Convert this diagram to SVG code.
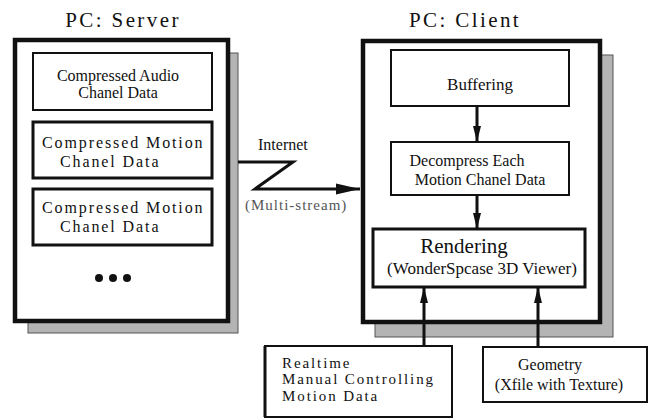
<svg xmlns="http://www.w3.org/2000/svg" width="654" height="419" viewBox="0 0 654 419">
  <defs>
    <style>
      text { font-family: "Liberation Serif", "Times New Roman", serif; fill: #111; }
      .title { font-size: 21px; letter-spacing: 2.4px; text-anchor: middle; }
      .t16 { font-size: 16px; text-anchor: middle; }
      .wide { font-size: 16px; letter-spacing: 1.9px; }
      .shadow { fill: #b4b4b4; stroke: #555; stroke-width: 1; }
      .frame { fill: #fff; stroke: #111; stroke-width: 4.5; }
      .box { fill: #fff; stroke: #111; stroke-width: 2; }
      .boxb { fill: #fff; stroke: #111; stroke-width: 3; }
      .line { fill: none; stroke: #111; stroke-width: 3; }
    </style>
    <marker id="head" viewBox="0 0 16 10" refX="16" refY="5" markerWidth="16" markerHeight="10" markerUnits="userSpaceOnUse" orient="auto">
      <path d="M0,1 L16,5 L0,9 Z" fill="#111"/>
    </marker>
    <marker id="headBig" viewBox="0 0 24 12" refX="24" refY="6" markerWidth="24" markerHeight="12" markerUnits="userSpaceOnUse" orient="auto">
      <path d="M0,0.5 L24,6 L0,11.5 Z" fill="#111"/>
    </marker>
  </defs>

  <!-- Server PC -->
  <g id="server">
    <text class="title" x="123" y="27">PC: Server</text>
    <rect class="shadow" x="28" y="53" width="210" height="280"/>
    <rect class="frame" x="15" y="40" width="213" height="281"/>
  </g>
  <g id="audio">
    <rect class="box" x="33" y="53" width="179" height="57"/>
    <text class="t16" x="118" y="81">Compressed Audio</text>
    <text class="t16" x="118" y="98">Chanel Data</text>
  </g>
  <g id="motion1">
    <rect class="boxb" x="33" y="122" width="179" height="56"/>
    <text class="wide" x="42" y="148">Compressed Motion</text>
    <text class="wide" x="60" y="167">Chanel Data</text>
  </g>
  <g id="motion2">
    <rect class="boxb" x="33" y="189" width="179" height="56"/>
    <text class="wide" x="42" y="213">Compressed Motion</text>
    <text class="wide" x="60" y="232">Chanel Data</text>
  </g>
  <g id="more">
    <circle cx="99" cy="278" r="4" fill="#111"/>
    <circle cx="113" cy="278" r="4" fill="#111"/>
    <circle cx="127" cy="278" r="4" fill="#111"/>
  </g>

  <!-- Client PC -->
  <g id="client">
    <text class="title" x="465" y="27">PC: Client</text>
    <rect class="shadow" x="375" y="55" width="238" height="282"/>
    <rect class="frame" x="363" y="41" width="237" height="281"/>
  </g>
  <g id="buffering">
    <rect class="box" x="391" y="50" width="178" height="56"/>
    <text class="t16" x="480" y="90" style="font-size:17px">Buffering</text>
  </g>
  <g id="decompress">
    <rect class="box" x="391" y="142" width="178" height="53"/>
    <text class="t16" x="467" y="166">Decompress Each</text>
    <text class="t16" x="480" y="185">Motion Chanel Data</text>
  </g>
  <g id="rendering">
    <rect class="boxb" x="373" y="229" width="212" height="58"/>
    <text class="t16" x="464" y="253" style="font-size:21px">Rendering</text>
    <text class="t16" x="482" y="274" style="font-size:17px">(WonderSpcase 3D Viewer)</text>
  </g>

  <!-- External inputs -->
  <g id="manual">
    <rect class="box" x="265" y="346" width="187" height="71"/>
    <line x1="265" y1="346" x2="265" y2="417" stroke="#111" stroke-width="3"/>
    <text class="wide" x="282" y="368" style="font-size:15px">Realtime</text>
    <text class="wide" x="282" y="384" style="font-size:15px">Manual Controlling</text>
    <text class="wide" x="282" y="401" style="font-size:15px">Motion Data</text>
  </g>
  <g id="geometry">
    <rect class="box" x="483" y="347" width="164" height="55"/>
    <text class="t16" x="550" y="370">Geometry</text>
    <text class="t16" x="559" y="390">(Xfile with Texture)</text>
  </g>

  <!-- Connectors -->
  <g id="connectors">
    <polyline class="line" points="238,162 293,162 255,189 360,189" marker-end="url(#headBig)"/>
    <text x="258" y="150" style="font-size:16px">Internet</text>
    <text x="245" y="210" style="font-size:15px; letter-spacing:1px; fill:#555">(Multi-stream)</text>
    <line class="line" x1="477" y1="106" x2="477" y2="142" marker-end="url(#head)"/>
    <line class="line" x1="477" y1="195" x2="477" y2="229" marker-end="url(#head)"/>
    <line class="line" x1="424" y1="346" x2="424" y2="287" marker-end="url(#head)"/>
    <line class="line" x1="538" y1="347" x2="538" y2="287" marker-end="url(#head)"/>
  </g>
</svg>
